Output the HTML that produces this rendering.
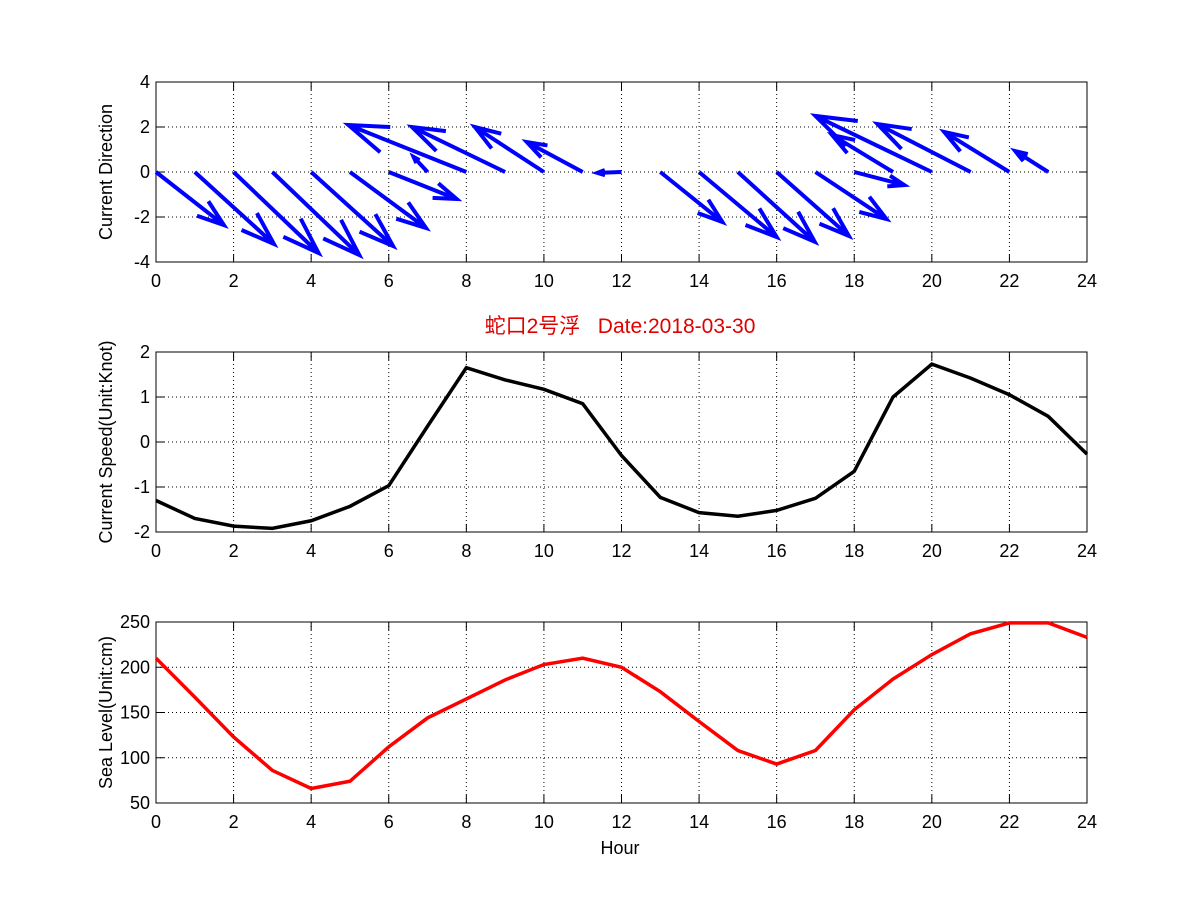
<!DOCTYPE html>
<html><head><meta charset="utf-8"><style>
html,body{margin:0;padding:0;background:#fff;}
svg{display:block;font-family:"Liberation Sans","Noto Sans CJK SC",sans-serif;}
</style></head><body>
<svg id="fig" width="1201" height="901" viewBox="0 0 1201 901"></svg>
<script>
const hours=[0,1,2,3,4,5,6,7,8,9,10,11,12,13,14,15,16,17,18,19,20,21,22,23,24];
const arrowHours=[0,1,2,3,4,5,6,7,8,9,10,11,12,13,14,15,16,17,18,19,20,21,22,23];
const arrowU=[1.75,2.04,2.19,2.24,2.11,1.96,1.75,-0.36,-3.04,-2.4,-1.78,-1.44,-0.62,1.6,2.0,1.98,1.86,1.83,1.29,-1.57,-3.0,-2.4,-1.68,-0.85];
const arrowV=[-2.36,-3.2,-3.6,-3.69,-3.29,-2.49,-1.2,0.67,2.09,2.0,2.0,1.33,-0.04,-2.22,-2.89,-3.1,-2.84,-2.09,-0.58,1.64,2.49,2.13,1.78,0.93];
const speed=[-1.3,-1.7,-1.87,-1.92,-1.75,-1.43,-0.97,0.35,1.65,1.38,1.17,0.85,-0.3,-1.23,-1.57,-1.65,-1.52,-1.25,-0.65,1.0,1.73,1.42,1.05,0.57,-0.27];
const seaLevel=[210,167,123,86,66,74,112,144,165,186,203,210,200,173,140,108,93,108,153,187,214,237,249,249,233];
const xTicks=[0,2,4,6,8,10,12,14,16,18,20,22,24];
const yTicks1=[-4,-2,0,2,4];
const yTicks2=[-2,-1,0,1,2];
const yTicks3=[50,100,150,200,250];

const svg=document.getElementById('fig');
const NS='http://www.w3.org/2000/svg';
function mk(tag,attrs,parent){const e=document.createElementNS(NS,tag);for(const k in attrs)e.setAttribute(k,attrs[k]);(parent||svg).appendChild(e);return e;}
const X0=156,X1=1087;
const xs=h=>X0+(h-0)/(24-0)*(X1-X0);

function axes(name,top,bot,ymin,ymax,yt,ylabel){
  const g=mk('g',{});
  
  
  const ys=v=>bot-(v-ymin)/(ymax-ymin)*(bot-top);
  mk('rect',{x:X0,y:top,width:X1-X0,height:bot-top,fill:'#fff'},g);
  xTicks.forEach(t=>{
    if(t>0&&t<24){const l=mk('line',{x1:xs(t),x2:xs(t),y1:top,y2:bot,stroke:'#000','stroke-width':1,'stroke-dasharray':'1,3'},g);
    }
    mk('line',{x1:xs(t),x2:xs(t),y1:bot,y2:bot-8,stroke:'#000'},g);
    mk('line',{x1:xs(t),x2:xs(t),y1:top,y2:top+8,stroke:'#000'},g);
    const tx=mk('text',{x:xs(t),y:bot+25,'font-size':18,'text-anchor':'middle'},g);tx.textContent=t;
    
  });
  yt.forEach(t=>{
    if(t>ymin&&t<ymax){const l=mk('line',{x1:X0,x2:X1,y1:ys(t),y2:ys(t),stroke:'#000','stroke-width':1,'stroke-dasharray':'1,3'},g);
    }
    mk('line',{x1:X0,x2:X0+8,y1:ys(t),y2:ys(t),stroke:'#000'},g);
    mk('line',{x1:X1,x2:X1-8,y1:ys(t),y2:ys(t),stroke:'#000'},g);
    const tx=mk('text',{x:X0-6,y:ys(t)+6,'font-size':18,'text-anchor':'end'},g);tx.textContent=t;
    
  });
  mk('rect',{x:X0,y:top,width:X1-X0,height:bot-top,fill:'none',stroke:'#000','stroke-width':1},g);
  const cy=(top+bot)/2;
  const yl=mk('text',{x:0,y:0,'font-size':18,'text-anchor':'middle',transform:`translate(${X0-44},${cy}) rotate(-90)`},g);
  yl.textContent=ylabel;
  
  return ys;
}

const ys1=axes('current-direction-axes',82,262,-4,4,yTicks1,'Current Direction');
const gq=mk('g',{stroke:'#0000ff','stroke-width':4,fill:'none','stroke-linecap':'butt'});

const pxX=(X1-X0)/24, pxY=180/8;
arrowHours.forEach((h,i)=>{
  const x0=xs(h),y0=ys1(0);
  const x1=x0+arrowU[i]*pxX,y1=y0-arrowV[i]*pxY;
  const dx=x1-x0,dy=y1-y0;
  const ang=Math.atan2(dy,dx),len=Math.hypot(dx,dy)*0.33,a=0.33;
  const d=`M${x0},${y0}L${x1},${y1}M${x1-len*Math.cos(ang-a)},${y1-len*Math.sin(ang-a)}L${x1},${y1}L${x1-len*Math.cos(ang+a)},${y1-len*Math.sin(ang+a)}`;
  const p=mk('path',{d:d},gq);
  
  
});

const title=mk('text',{x:620,y:333,'font-size':21,'text-anchor':'middle',fill:'#e00000'});
title.textContent='蛇口2号浮\u00a0\u00a0\u00a0Date:2018-03-30';


const ys2=axes('current-speed-axes',352,532,-2,2,yTicks2,'Current Speed(Unit:Knot)');
const sp=mk('polyline',{points:hours.map((h,i)=>xs(h)+','+ys2(speed[i])).join(' '),fill:'none',stroke:'#000','stroke-width':3.5,'stroke-linejoin':'miter'});


const ys3=axes('sea-level-axes',622,803,50,250,yTicks3,'Sea Level(Unit:cm)');
const sl=mk('polyline',{points:hours.map((h,i)=>xs(h)+','+ys3(seaLevel[i])).join(' '),fill:'none',stroke:'#ff0000','stroke-width':3.5});

const xl=mk('text',{x:620,y:854,'font-size':18,'text-anchor':'middle'});
xl.textContent='Hour';

</script>
</body></html>
